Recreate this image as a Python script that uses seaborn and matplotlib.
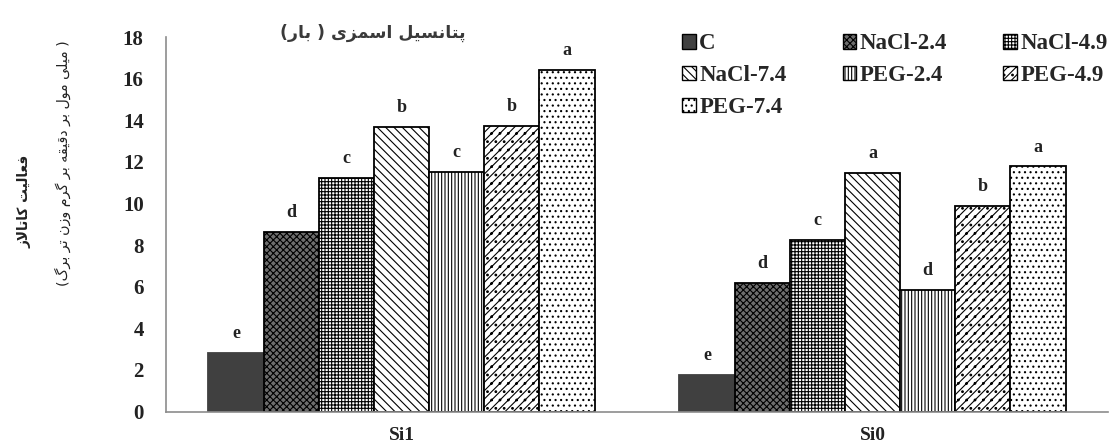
import seaborn as sns
import matplotlib.pyplot as plt
from matplotlib.patches import Patch
import pandas as pd

# Données
groups = ['Si1', 'Si0']
treatments = ['C', 'NaCl-2.4', 'NaCl-4.9', 'NaCl-7.4', 'PEG-2.4', 'PEG-4.9', 'PEG-7.4']
si1_values = [2.83, 8.65, 11.25, 13.66, 11.51, 13.74, 16.43]
si0_values = [1.76, 6.20, 8.25, 11.49, 5.85, 9.86, 11.78]
si1_letters = ['e', 'd', 'c', 'b', 'c', 'b', 'a']
si0_letters = ['e', 'd', 'c', 'a', 'd', 'b', 'a']
y_ticks = [0, 2, 4, 6, 8, 10, 12, 14, 16, 18]

title_fa = 'پتانسیل اسمزی ( بار)'
ylabel_fa = 'فعالیت کاتالاز'
unit_fa = '( میلی مول بر دقیقه بر گرم وزن تر برگ)'

# Styles des barres (couleur de fond, hachure)
styles = {
    'C': ('#404040', ''),
    'NaCl-2.4': ('#6e6e6e', 'xxxxx'),
    'NaCl-4.9': ('white', '+++++'),
    'NaCl-7.4': ('white', '\\\\\\\\'),
    'PEG-2.4': ('white', '|||||'),
    'PEG-4.9': ('white', '////..'),
    'PEG-7.4': ('white', '...'),
}

# Mise en forme arabe/persane (formes de présentation + ordre visuel)
FORMS = {
    'ا': ('\uFE8D', '\uFE8E'), 'د': ('\uFEA9', '\uFEAA'), 'ر': ('\uFEAD', '\uFEAE'),
    'ز': ('\uFEAF', '\uFEB0'), 'و': ('\uFEED', '\uFEEE'),
    'ب': ('\uFE8F', '\uFE90', '\uFE91', '\uFE92'), 'پ': ('\uFB56', '\uFB57', '\uFB58', '\uFB59'),
    'ت': ('\uFE95', '\uFE96', '\uFE97', '\uFE98'), 'س': ('\uFEB1', '\uFEB2', '\uFEB3', '\uFEB4'),
    'ع': ('\uFEC9', '\uFECA', '\uFECB', '\uFECC'), 'ف': ('\uFED1', '\uFED2', '\uFED3', '\uFED4'),
    'ق': ('\uFED5', '\uFED6', '\uFED7', '\uFED8'), 'ک': ('\uFB8E', '\uFB8F', '\uFB90', '\uFB91'),
    'گ': ('\uFB92', '\uFB93', '\uFB94', '\uFB95'), 'ل': ('\uFEDD', '\uFEDE', '\uFEDF', '\uFEE0'),
    'م': ('\uFEE1', '\uFEE2', '\uFEE3', '\uFEE4'), 'ن': ('\uFEE5', '\uFEE6', '\uFEE7', '\uFEE8'),
    'ه': ('\uFEE9', '\uFEEA', '\uFEEB', '\uFEEC'), 'ی': ('\uFBFC', '\uFBFD', '\uFBFE', '\uFBFF'),
}

def shape_fa(text):
    out = []
    i = 0
    n = len(text)
    while i < n:
        ch = text[i]
        if ch not in FORMS:
            out.append(ch)
            i += 1
            continue
        prev = text[i - 1] if i > 0 else ''
        join_prev = prev in FORMS and len(FORMS[prev]) == 4
        nxt = text[i + 1] if i + 1 < n else ''
        if ch == 'ل' and nxt == 'ا':
            out.append('\uFEFC' if join_prev else '\uFEFB')
            i += 2
            continue
        join_next = len(FORMS[ch]) == 4 and nxt in FORMS
        f = FORMS[ch]
        if join_prev and join_next:
            out.append(f[3])
        elif join_prev:
            out.append(f[1])
        elif join_next:
            out.append(f[2])
        else:
            out.append(f[0])
        i += 1
    vis = ''.join(reversed(out))
    return vis.translate(str.maketrans('()', ')('))

df = pd.DataFrame({
    'group': [g for g in groups for _ in treatments],
    'treatment': treatments * 2,
    'value': si1_values + si0_values,
})

sns.set_style('white')
plt.rcParams['font.family'] = ['Liberation Serif', 'DejaVu Sans']
plt.rcParams['hatch.linewidth'] = 0.8

fig = plt.figure(figsize=(11.16, 4.47), dpi=100)
ax = fig.add_axes([0.1487, 0.0794, 0.8441, 0.8376])

palette = {t: styles[t][0] for t in treatments}
sns.barplot(data=df, x='group', y='value', hue='treatment', order=groups,
            hue_order=treatments, palette=palette, saturation=1, width=0.82,
            edgecolor='black', linewidth=1.3, legend=False, ax=ax)

for t, cont in zip(treatments, ax.containers):
    for bar in cont:
        bar.set_hatch(styles[t][1])
    if t == 'C':
        for bar in cont:
            bar.set_edgecolor('#404040')

letters = {'Si1': si1_letters, 'Si0': si0_letters}
for k, cont in enumerate(ax.containers):
    for g, bar in zip(groups, cont):
        ax.annotate(letters[g][k], (bar.get_x() + bar.get_width() / 2, bar.get_height()),
                    xytext=(0, 14), textcoords='offset points', ha='center', va='center',
                    fontsize=13, fontweight='bold', color='#222222')

ax.set_ylim(0, 18)
ax.set_xlim(-0.5, 1.5)
ax.set_yticks(y_ticks)
ax.set_xlabel('')
ax.set_ylabel('')
ax.tick_params(axis='y', length=0, pad=16, labelsize=15)
ax.tick_params(axis='x', length=0, pad=11, labelsize=14)
for lab in ax.get_yticklabels() + ax.get_xticklabels():
    lab.set_fontweight('bold')
    lab.set_color('#222222')

for s in ['top', 'right']:
    ax.spines[s].set_visible(False)
for s in ['left', 'bottom']:
    ax.spines[s].set_color('#8c8c8c')
    ax.spines[s].set_linewidth(1.2)

# Légende : remplissage par colonne dans matplotlib
order = [0, 3, 6, 1, 4, 2, 5]
handles = [Patch(facecolor=styles[treatments[i]][0], hatch=styles[treatments[i]][1],
                 edgecolor='black', linewidth=1.0) for i in order]
labels = [treatments[i] for i in order]
leg = ax.legend(handles, labels, ncol=3, loc='upper left', bbox_to_anchor=(0.526, 1.065),
                frameon=False, handlelength=0.6, handleheight=0.6, handletextpad=0.15,
                columnspacing=2.45, labelspacing=0.47,
                prop={'family': 'Liberation Serif', 'weight': 'bold', 'size': 16.5})

ax.text(0.22, 1.01, shape_fa(title_fa), transform=ax.transAxes, ha='center', va='center',
        fontsize=12.5, fontweight='bold', color='#3a3a3a', family='DejaVu Sans')

fig.text(25 / 1116, 1 - 201 / 447, shape_fa(ylabel_fa), rotation=90, ha='center', va='center',
         fontsize=9.8, fontweight='bold', color='#222222', family='DejaVu Sans')
fig.text(63 / 1116, 1 - 163 / 447, shape_fa(unit_fa), rotation=90, ha='center', va='center',
         fontsize=10.3, color='#222222', family='DejaVu Sans')

fig.savefig('out.png', dpi=100)
